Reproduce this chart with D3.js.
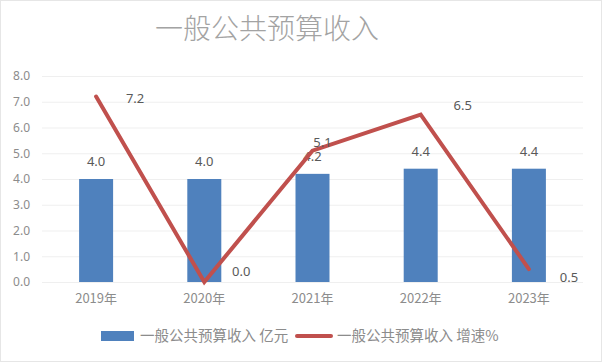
<!DOCTYPE html>
<html>
<head>
<meta charset="utf-8">
<script src="https://cdn.jsdelivr.net/npm/d3@7"></script>
<style>
  body { margin: 0; background: #fff; }
  text { font-family: "Noto Sans CJK SC", "Noto Sans", sans-serif; }
</style>
</head>
<body>
<div id="chart"></div>
<script>
// >-----------------< Data >-------------------<
const years = ["2019年", "2020年", "2021年", "2022年", "2023年"];
const revenue = [4.0, 4.0, 4.2, 4.4, 4.4];       // 亿元
const growth = [7.2, 0.0, 5.1, 6.5, 0.5];        // 增速%
const yTicks = [0, 1, 2, 3, 4, 5, 6, 7, 8];
const titleText = "一般公共预算收入";
const legendNames = ["一般公共预算收入 亿元", "一般公共预算收入 增速%"];

// label nudges for the growth line labels (as placed in the original)
const growthLabelOffsets = [[39, 1], [37, -11], [10, -9], [42, -10], [40, 8]];

// >-----------------< Config >-------------------<
const width = 602, height = 362;
const margin = {top: 76, right: 19, bottom: 80, left: 42};
const colors = { bar: "#4f81bd", line: "#c0504d", grid: "#efefef", axisText: "#8c8c8c", label: "#595959" };

const svg = d3.select("#chart").append("svg")
  .attr("width", width)
  .attr("height", height);

svg.append("rect")
  .attr("x", 0.5).attr("y", 0.5)
  .attr("width", width - 1).attr("height", height - 1)
  .attr("fill", "#fff")
  .attr("stroke", "#e6e6e6");

const chartW = width - margin.left - margin.right;
const chartH = height - margin.top - margin.bottom;

const g = svg.append("g").attr("transform", `translate(${margin.left},${margin.top})`);

const x = d3.scaleBand().domain(years).range([0, chartW]);
const y = d3.scaleLinear().domain([0, 8]).range([chartH, 0]);

// Title
svg.append("text")
  .attr("x", 267).attr("y", 39)
  .attr("text-anchor", "middle")
  .attr("font-size", 28)
  .attr("font-weight", 300)
  .attr("fill", "#a3a3a3")
  .text(titleText);

// Gridlines
g.selectAll(".grid")
  .data(yTicks)
  .enter().append("line")
  .attr("x1", 0).attr("x2", chartW)
  .attr("y1", d => y(d) + 0.5).attr("y2", d => y(d) + 0.5)
  .attr("stroke", colors.grid);

// Y axis
const yAxis = g.append("g")
  .call(d3.axisLeft(y).tickValues(yTicks).tickFormat(d3.format(".1f")).tickSize(0).tickPadding(12));
yAxis.select(".domain").remove();
yAxis.selectAll("text")
  .attr("font-size", 12)
  .attr("fill", colors.axisText)
  .style("font-family", "'Noto Sans', sans-serif");

// X axis
const xAxis = g.append("g")
  .attr("transform", `translate(0,${chartH})`)
  .call(d3.axisBottom(x).tickSize(0).tickPadding(12));
xAxis.select(".domain").remove();
xAxis.selectAll("text")
  .attr("font-size", 13)
  .attr("fill", colors.axisText);

// Bars
const barW = 34;
g.selectAll(".bar")
  .data(revenue)
  .enter().append("rect")
  .attr("class", "bar")
  .attr("x", (d, i) => x(years[i]) + x.bandwidth() / 2 - barW / 2)
  .attr("y", d => y(d))
  .attr("width", barW)
  .attr("height", d => chartH - y(d))
  .attr("fill", colors.bar);

g.selectAll(".bar-label")
  .data(revenue)
  .enter().append("text")
  .attr("x", (d, i) => x(years[i]) + x.bandwidth() / 2)
  .attr("y", d => y(d) - 13)
  .attr("text-anchor", "middle")
  .attr("font-size", 13)
  .attr("fill", colors.label)
  .style("font-family", "'Noto Sans', sans-serif")
  .text(d => d3.format(".1f")(d));

// Line
const line = d3.line()
  .x((d, i) => x(years[i]) + x.bandwidth() / 2)
  .y(d => y(d));

g.append("path")
  .datum(growth)
  .attr("d", line)
  .attr("fill", "none")
  .attr("stroke", colors.line)
  .attr("stroke-width", 4)
  .attr("stroke-linecap", "round");

g.selectAll(".line-label")
  .data(growth)
  .enter().append("text")
  .attr("x", (d, i) => x(years[i]) + x.bandwidth() / 2 + growthLabelOffsets[i][0])
  .attr("y", (d, i) => y(d) + growthLabelOffsets[i][1] + 5)
  .attr("text-anchor", "middle")
  .attr("font-size", 13)
  .attr("fill", colors.label)
  .style("font-family", "'Noto Sans', sans-serif")
  .text(d => d3.format(".1f")(d));

// Legend
const legend = svg.append("g").attr("transform", "translate(0,336)");
legend.append("rect")
  .attr("x", 101).attr("y", -5)
  .attr("width", 33).attr("height", 10)
  .attr("fill", colors.bar);
legend.append("text")
  .attr("x", 140).attr("y", 5)
  .attr("font-size", 14.5)
  .attr("fill", colors.axisText)
  .text(legendNames[0]);
legend.append("line")
  .attr("x1", 297).attr("x2", 331)
  .attr("y1", 0).attr("y2", 0)
  .attr("stroke", colors.line)
  .attr("stroke-width", 4)
  .attr("stroke-linecap", "round");
legend.append("text")
  .attr("x", 337).attr("y", 5)
  .attr("font-size", 14.5)
  .attr("fill", colors.axisText)
  .text(legendNames[1]);
</script>
</body>
</html>
